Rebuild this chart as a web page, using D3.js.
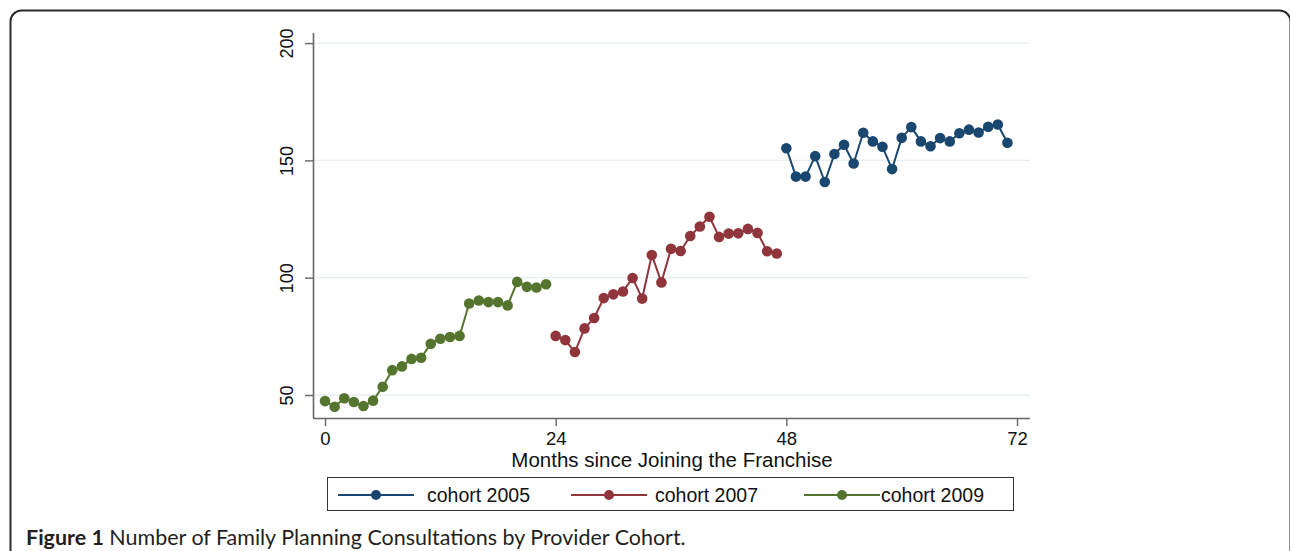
<!DOCTYPE html>
<html>
<head>
<meta charset="utf-8">
<script src="https://cdn.jsdelivr.net/npm/d3@7/dist/d3.min.js"></script>
<style>
  body { margin: 0; background: #fff; }
  svg { display: block; }
</style>
</head>
<body>
<svg id="chart" width="1290" height="551"></svg>
<script>
// Monthly family planning consultations, by provider cohort
const months2005 = [48,49,50,51,52,53,54,55,56,57,58,59,60,61,62,63,64,65,66,67,68,69,70,71];
const cohort2005 = [155.2,143.1,143.1,151.8,140.8,152.7,156.7,148.7,161.8,158.1,155.8,146.3,
                    159.6,164.2,158.1,156.0,159.5,158.1,161.6,163.1,161.9,164.3,165.3,157.5];

const months2007 = [24,25,26,27,28,29,30,31,32,33,34,35,36,37,38,39,40,41,42,43,44,45,46,47];
const cohort2007 = [75.2,73.4,68.3,78.4,82.8,91.3,92.9,94.1,99.9,91.1,109.7,98.0,
                    112.3,111.4,117.8,121.8,126.0,117.4,118.8,118.9,120.8,119.1,111.3,110.3];

const months2009 = [0,1,2,3,4,5,6,7,8,9,10,11,12,13,14,15,16,17,18,19,20,21,22,23];
const cohort2009 = [47.4,45.0,48.6,47.0,45.3,47.6,53.5,60.6,62.2,65.4,65.9,71.8,
                    74.0,74.7,75.2,89.0,90.3,89.6,89.6,88.2,98.2,96.1,95.8,97.2];

const seriesNames = ["cohort 2005", "cohort 2007", "cohort 2009"];
const seriesColors = ["#1a476f", "#90353b", "#55752f"];

const xTicks = [0, 24, 48, 72];
const yTicks = [50, 100, 150, 200];

const xTitle = "Months since Joining the Franchise";
const captionBold = "Figure 1";
const captionText = " Number of Family Planning Consultations by Provider Cohort.";

const series = [
  { name: seriesNames[0], color: seriesColors[0], months: months2005, values: cohort2005 },
  { name: seriesNames[1], color: seriesColors[1], months: months2007, values: cohort2007 },
  { name: seriesNames[2], color: seriesColors[2], months: months2009, values: cohort2009 }
];

const svg = d3.select("#chart");
const font = "'Liberation Sans', Arial, Helvetica, sans-serif";

// Outer rounded frame (continues past the right and bottom edges)
svg.append("rect")
  .attr("x", 10.5).attr("y", 10.5)
  .attr("width", 1280).attr("height", 620)
  .attr("rx", 11).attr("ry", 11)
  .attr("fill", "none")
  .attr("stroke", "#2a2a2a")
  .attr("stroke-width", 2);

// Plot region
const plot = { left: 313, right: 1030, top: 33, bottom: 418 };

const x = d3.scaleLinear().domain([-1.25, 73.35]).range([plot.left, plot.right]);
const y = d3.scaleLinear().domain([40.2, 204.3]).range([plot.bottom, plot.top]);

// Horizontal gridlines
svg.append("g")
  .selectAll("line")
  .data(yTicks)
  .join("line")
  .attr("x1", plot.left).attr("x2", plot.right)
  .attr("y1", d => y(d)).attr("y2", d => y(d))
  .attr("stroke", "#e6eff0")
  .attr("stroke-width", 1.3);

// Y axis
const yAxis = svg.append("g")
  .attr("transform", `translate(${plot.left},0)`)
  .call(d3.axisLeft(y).tickValues(yTicks).tickSize(8).tickSizeOuter(0).tickFormat(d3.format("d")));
yAxis.select(".domain").attr("stroke", "#666").attr("stroke-width", 1.6)
  .attr("d", `M0.5,${plot.top}V${plot.bottom}`);
yAxis.selectAll(".tick line").attr("stroke", "#666").attr("stroke-width", 1.4);
yAxis.selectAll(".tick text")
  .attr("font-family", font)
  .attr("font-size", 18)
  .attr("fill", "#111")
  .attr("text-anchor", "middle")
  .attr("x", null).attr("dy", null)
  .attr("transform", "translate(-20,0) rotate(-90)");

// X axis
const xAxis = svg.append("g")
  .attr("transform", `translate(0,${plot.bottom})`)
  .call(d3.axisBottom(x).tickValues(xTicks).tickSize(8).tickSizeOuter(0).tickFormat(d3.format("d")));
xAxis.select(".domain").attr("stroke", "#666").attr("stroke-width", 1.6)
  .attr("d", `M${plot.left},0.5H${plot.right}`);
xAxis.selectAll(".tick line").attr("stroke", "#666").attr("stroke-width", 1.4);
xAxis.selectAll(".tick text")
  .attr("font-family", font)
  .attr("font-size", 18.5)
  .attr("fill", "#111")
  .attr("dy", null)
  .attr("y", 26.5);

// Axis title
svg.append("text")
  .attr("x", (x(0) + x(72)) / 2 + 1)
  .attr("y", 466.5)
  .attr("text-anchor", "middle")
  .attr("font-family", font)
  .attr("font-size", 20.5)
  .attr("fill", "#111")
  .text(xTitle);

// Connected series with markers
const line = d3.line().x(d => x(d[0])).y(d => y(d[1]));
series.forEach(s => {
  const pts = s.months.map((m, i) => [m, s.values[i]]);
  const g = svg.append("g");
  g.append("path")
    .attr("d", line(pts))
    .attr("fill", "none")
    .attr("stroke", s.color)
    .attr("stroke-width", 2)
    .attr("stroke-linejoin", "round");
  g.selectAll("circle")
    .data(pts)
    .join("circle")
    .attr("cx", d => x(d[0]))
    .attr("cy", d => y(d[1]))
    .attr("r", 5.3)
    .attr("fill", s.color);
});

// Legend
const legend = svg.append("g");
legend.append("rect")
  .attr("x", 327.5).attr("y", 477.5)
  .attr("width", 686).attr("height", 33)
  .attr("fill", "#fff")
  .attr("stroke", "#333")
  .attr("stroke-width", 1);

const legendKeys = [
  { x1: 338, x2: 414, tx: 427 },
  { x1: 571, x2: 647, tx: 655 },
  { x1: 804, x2: 880, tx: 881 }
];
series.forEach((s, i) => {
  const k = legendKeys[i];
  legend.append("line")
    .attr("x1", k.x1).attr("x2", k.x2)
    .attr("y1", 495).attr("y2", 495)
    .attr("stroke", s.color).attr("stroke-width", 2);
  legend.append("circle")
    .attr("cx", (k.x1 + k.x2) / 2).attr("cy", 495)
    .attr("r", 5).attr("fill", s.color);
  legend.append("text")
    .attr("x", k.tx).attr("y", 502)
    .attr("font-family", font)
    .attr("font-size", 19.5)
    .attr("fill", "#111")
    .text(s.name);
});

// Figure caption
const caption = svg.append("text")
  .attr("x", 26).attr("y", 545)
  .attr("font-family", "Lato, 'Open Sans', 'Noto Sans', sans-serif")
  .attr("font-size", 18)
  .attr("fill", "#231f20");
caption.append("tspan").attr("font-weight", "bold").text(captionBold);
caption.append("tspan").text(captionText);
const capW = caption.node().getComputedTextLength();
caption.attr("font-size", 18 * 660 / capW);
</script>
</body>
</html>
